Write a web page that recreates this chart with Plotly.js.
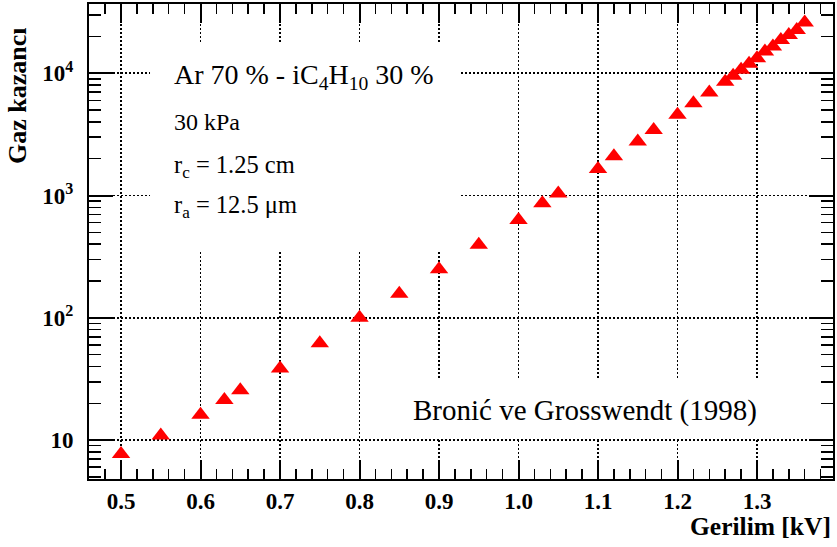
<!DOCTYPE html>
<html>
<head>
<meta charset="utf-8">
<script src="https://cdn.plot.ly/plotly-3.0.1.min.js"></script>
<style>html,body{margin:0;padding:0;background:#fff;}#chart{width:837px;height:547px;}</style>
</head>
<body>
<div id="chart"></div>
<script>
// Voltage [kV]
const voltage = [0.50, 0.55, 0.60, 0.63, 0.65, 0.70, 0.75, 0.80, 0.85, 0.90, 0.95, 1.00, 1.03, 1.05,
  1.10, 1.12, 1.15, 1.17, 1.20, 1.22, 1.24, 1.26, 1.27, 1.28, 1.29, 1.30, 1.31, 1.32, 1.33, 1.34, 1.35, 1.36];
// Gas gain
const gain = [7.7, 10.9, 16.1, 21.3, 25.6, 38.5, 62, 100, 157, 250, 395, 630, 864, 1040,
  1650, 2090, 2770, 3440, 4580, 5690, 6970, 8510, 9530, 10660, 11930, 13250, 15050, 16500, 18700, 20560, 22600, 26000];

const xTickVals = [0.5, 0.6, 0.7, 0.8, 0.9, 1.0, 1.1, 1.2, 1.3];
const yTickVals = [10, 100, 1000, 10000];
const yTickText = ['10', '10<sup>2</sup>', '10<sup>3</sup>', '10<sup>4</sup>'];

const serif = 'Liberation Serif';

const trace = {
  x: voltage, y: gain, type: 'scatter', mode: 'markers',
  marker: {symbol: 'triangle-up', size: 16, color: '#ff0000', line: {width: 0}},
  hoverinfo: 'x+y'
};

const common = {
  ticks: 'inside', tickcolor: '#000', tickwidth: 2,
  showline: true, linecolor: '#000', linewidth: 2, mirror: 'allticks',
  showgrid: true, gridcolor: '#000', gridwidth: 1.5, griddash: '1.5px,2.5px',
  zeroline: false,
  tickfont: {family: serif, size: 23, weight: 'bold', color: '#000'}
};

const layout = {
  width: 837, height: 547,
  margin: {l: 89, r: 4, t: 4, b: 68},
  paper_bgcolor: '#fff', plot_bgcolor: '#fff',
  font: {family: serif, color: '#000'},
  showlegend: false,
  xaxis: Object.assign({}, common, {
    range: [0.4597, 1.3956],
    tickmode: 'array', tickvals: xTickVals, tickformat: '.1f',
    ticklen: 19,
    minor: {dtick: 0.02, tick0: 0.5, ticklen: 10, tickwidth: 1.5, ticks: 'inside', tickcolor: '#000', showgrid: false}
  }),
  yaxis: Object.assign({}, common, {
    type: 'log',
    range: [0.682, 4.566],
    tickmode: 'array', tickvals: yTickVals, ticktext: yTickText,
    ticklen: 24, ticklabelstandoff: 9,
    minor: {dtick: 'D1', ticklen: 12, tickwidth: 1.5, ticks: 'inside', tickcolor: '#000', showgrid: false}
  }),
  shapes: [
    {type: 'rect', xref: 'paper', yref: 'paper', x0: 0.082, x1: 0.4987, y0: 0.482, y1: 0.92,
      fillcolor: '#fff', line: {width: 0}, layer: 'above'},
    {type: 'rect', xref: 'paper', yref: 'paper', x0: 0.403, x1: 0.961, y0: 0.0855, y1: 0.2126,
      fillcolor: '#fff', line: {width: 0}, layer: 'above'}
  ],
  annotations: [
    {xref: 'paper', yref: 'paper', x: 0.1116, y: 0.848, xanchor: 'left', yanchor: 'middle', showarrow: false,
      text: 'Ar 70 % - iC<sub>4</sub>H<sub>10</sub> 30 %', font: {family: serif, size: 28, color: '#000'}},
    {xref: 'paper', yref: 'paper', x: 0.1116, y: 0.7516, xanchor: 'left', yanchor: 'middle', showarrow: false,
      text: '30 kPa', font: {family: serif, size: 24, color: '#000'}},
    {xref: 'paper', yref: 'paper', x: 0.1116, y: 0.657, xanchor: 'left', yanchor: 'middle', showarrow: false,
      text: 'r<sub>c</sub> = 1.25 cm', font: {family: serif, size: 24.5, color: '#000'}},
    {xref: 'paper', yref: 'paper', x: 0.1116, y: 0.573, xanchor: 'left', yanchor: 'middle', showarrow: false,
      text: 'r<sub>a</sub> = 12.5 μm', font: {family: serif, size: 24.5, color: '#000'}},
    {xref: 'paper', yref: 'paper', x: 0.4328, y: 0.145, xanchor: 'left', yanchor: 'middle', showarrow: false,
      text: 'Bronić ve Grosswendt (1998)', font: {family: serif, size: 29, color: '#000'}},
    {xref: 'paper', yref: 'paper', x: 1.0, y: -0.101, xanchor: 'right', yanchor: 'middle', showarrow: false,
      text: '<b>Gerilim [kV]</b>', font: {family: serif, size: 25.5, color: '#000'}},
    {xref: 'paper', yref: 'paper', x: -0.097, y: 0.808, xanchor: 'center', yanchor: 'middle', showarrow: false,
      textangle: -90, text: '<b>Gaz kazancı</b>', font: {family: serif, size: 26, color: '#000'}}
  ]
};

Plotly.newPlot('chart', [trace], layout, {displayModeBar: false, staticPlot: true});
</script>
</body>
</html>
